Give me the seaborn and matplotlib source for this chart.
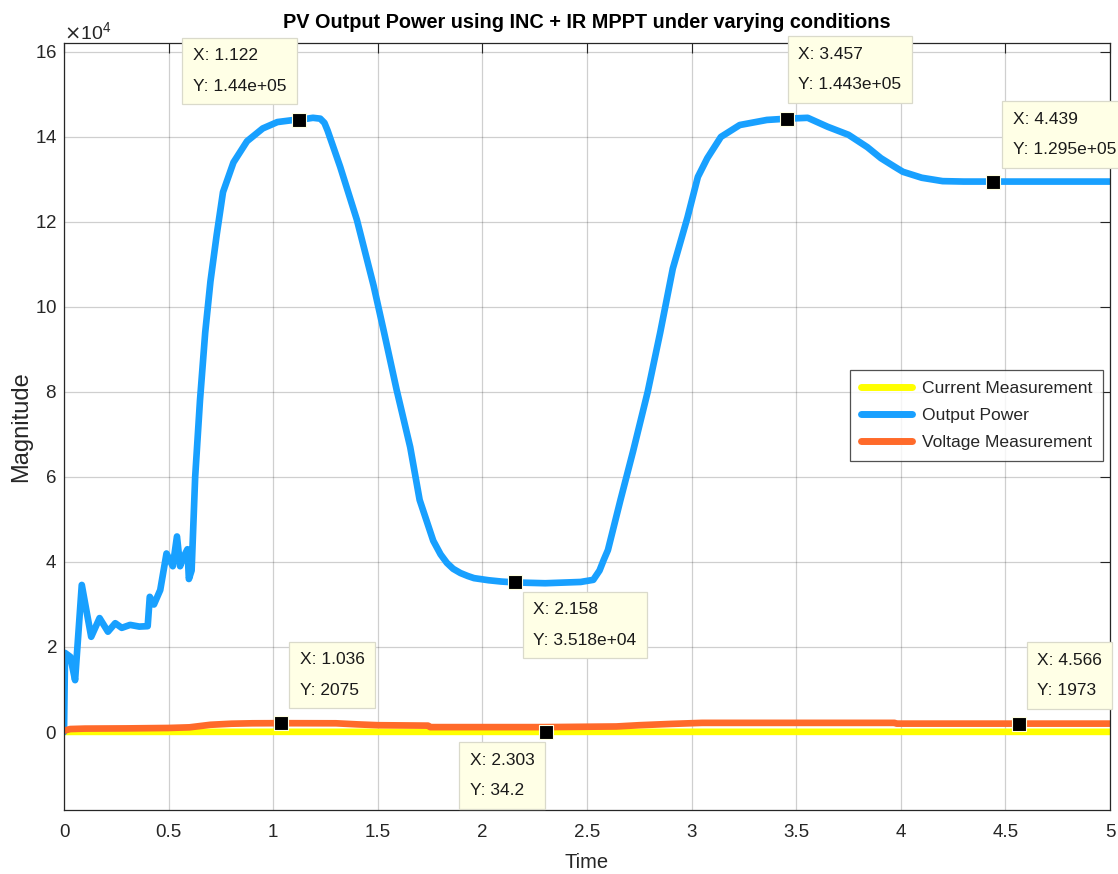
import matplotlib
matplotlib.use("Agg")
import matplotlib.pyplot as plt
from matplotlib.ticker import ScalarFormatter, MultipleLocator
import seaborn as sns

# ---------------- data ----------------
title = "PV Output Power using INC + IR MPPT under varying conditions"
series_names = ["Current Measurement", "Output Power", "Voltage Measurement"]

time_power = [0.0, 0.005, 0.03, 0.053, 0.085, 0.13, 0.17, 0.21, 0.245, 0.276, 0.316,
              0.36, 0.40, 0.41, 0.43, 0.46, 0.49, 0.52, 0.54, 0.555, 0.57, 0.59, 0.597,
              0.61, 0.627, 0.65, 0.675, 0.70, 0.73, 0.76, 0.81, 0.875, 0.95, 1.02, 1.1,
              1.122, 1.19, 1.225, 1.245, 1.26, 1.32, 1.40, 1.48, 1.53, 1.59, 1.655, 1.70, 1.765, 1.80,
              1.83, 1.86, 1.895, 1.93, 1.96, 2.03, 2.09, 2.158, 2.30, 2.47, 2.53, 2.56, 2.58,
              2.60, 2.66, 2.72, 2.79, 2.85, 2.91, 2.98, 3.03, 3.075, 3.14, 3.23, 3.36, 3.457,
              3.555, 3.65, 3.75, 3.84, 3.905, 3.97, 4.01, 4.1, 4.2, 4.3, 4.439, 4.6, 4.8, 5.0]
power = [0, 18600, 17700, 12200, 34600, 22400, 26800, 23600, 25600, 24500, 25200,
         24800, 24900, 31800, 30000, 33400, 42000, 39000, 46000, 39000, 41000, 43000, 36000,
         38000, 60000, 78000, 94000, 106000, 117000, 127000, 134000, 139000, 142000, 143500, 144000,
         144000, 144500, 144300, 143300, 141500, 133000, 120500, 105000, 94000, 80500, 67000, 54600,
         45000, 41800, 39800, 38400, 37400, 36700, 36200, 35700, 35400, 35180, 35000, 35300, 35800,
         38000, 40500, 42800, 54600, 66000, 80000, 94000, 109000, 121000, 130600, 135000, 140000,
         142800, 144000, 144300, 144500, 142400, 140500, 137600, 135000, 133000, 131800, 130400,
         129600, 129500, 129500, 129500, 129500, 129500]

time_voltage = [0.0, 0.03, 0.1, 0.3, 0.5, 0.6, 0.65, 0.7, 0.8, 0.9, 1.036, 1.3, 1.4, 1.5,
                1.74, 1.75, 2.3, 2.64, 2.75, 2.9, 3.05, 3.97, 3.98, 4.566, 5.0]
voltage = [300, 700, 800, 850, 950, 1100, 1400, 1700, 1950, 2050, 2075, 2050, 1800, 1600,
           1500, 1150, 1150, 1300, 1600, 1900, 2150, 2150, 1973, 1973, 1973]

time_current = [0.0, 0.05, 1.0, 2.303, 3.0, 4.0, 5.0]
current = [20, 30, 40, 34.2, 40, 38, 37]

tip_x = [1.122, 3.457, 4.439, 2.158, 1.036, 2.303, 4.566]
tip_y = [1.44e5, 1.443e5, 1.295e5, 3.518e4, 2075, 34.2, 1973]
tip_labels = ["X: 1.122\nY: 1.44e+05", "X: 3.457\nY: 1.443e+05", "X: 4.439\nY: 1.295e+05",
              "X: 2.158\nY: 3.518e+04", "X: 1.036\nY: 2075", "X: 2.303\nY: 34.2",
              "X: 4.566\nY: 1973"]
# label offsets (pixels) of each datatip text relative to its point
tip_offsets = [(-106, 72), (11, 72), (20, 70), (18, -20), (19, 71), (-76, -21), (18, 71)]

x_ticks = [0, 0.5, 1, 1.5, 2, 2.5, 3, 3.5, 4, 4.5, 5]
x_tick_labels = ["0", "0.5", "1", "1.5", "2", "2.5", "3", "3.5", "4", "4.5", "5"]

colors = {"Current Measurement": "#FFFF00", "Output Power": "#18A0FF",
          "Voltage Measurement": "#FF6A2A"}

# ---------------- style ----------------
sns.set_style("white")
plt.rcParams['font.family'] = ['Liberation Sans', 'DejaVu Sans']
text_col = "#262626"

fig = plt.figure(figsize=(11.18, 8.74), dpi=100)
ax = fig.add_axes([64 / 1118, 1 - 810 / 874, (1110 - 64) / 1118, (810 - 43) / 874])

lw = 4.8
sns.lineplot(x=time_current, y=current, color=colors[series_names[0]], lw=lw,
             label=series_names[0], estimator=None, ax=ax)
sns.lineplot(x=time_power, y=power, color=colors[series_names[1]], lw=lw,
             label=series_names[1], estimator=None, ax=ax)
sns.lineplot(x=time_voltage, y=voltage, color=colors[series_names[2]], lw=lw,
             label=series_names[2], estimator=None, ax=ax)

ax.set_xlim(0, 5)
ax.set_ylim(-1.835e4, 1.621e5)
ax.set_xticks(x_ticks)
ax.set_xticklabels(x_tick_labels)
ax.yaxis.set_major_locator(MultipleLocator(2e4))
fmt = ScalarFormatter(useMathText=True)
fmt.set_powerlimits((4, 4))
ax.yaxis.set_major_formatter(fmt)
ax.yaxis.get_offset_text().set_fontsize(14)
ax.yaxis.get_offset_text().set_color(text_col)

ax.grid(True, color="#262626", alpha=0.22, lw=0.9)
ax.tick_params(direction="in", length=7, width=0.8, colors=text_col, labelsize=13.5,
               top=True, right=True)
ax.tick_params(axis="y", pad=5)
ax.tick_params(axis="x", pad=10)
for s in ax.spines.values():
    s.set_color(text_col)
    s.set_linewidth(0.9)

ax.set_title(title, fontsize=14.3, fontweight="bold", color="black", pad=11)
ax.set_xlabel("Time", fontsize=14.5, color=text_col, labelpad=9)
ax.set_ylabel("Magnitude", fontsize=17, color=text_col, labelpad=2)

leg = ax.legend(loc="upper right", bbox_to_anchor=(0.9933, 0.5737), borderaxespad=0,
                fontsize=12.6, frameon=True, fancybox=False, edgecolor="#262626",
                handlelength=2.9, handletextpad=0.6, labelspacing=0.68, borderpad=0.6)
leg.get_frame().set_linewidth(0.9)
for h in leg.get_lines():
    h.set_linewidth(5)

# datatips
ax.scatter(tip_x, tip_y, marker="s", s=115, c="black", edgecolors="#FFFFE1",
           linewidths=0.8, zorder=6)
for x, y, lbl, (dx, dy) in zip(tip_x, tip_y, tip_labels, tip_offsets):
    ax.annotate(lbl, xy=(x, y), xytext=(dx, dy), textcoords="offset pixels",
                ha="left", va="top", fontsize=12.5, linespacing=2.3, color="#1a1a1a",
                bbox=dict(boxstyle="square,pad=0.6", fc="#FFFFE6", ec="#DADACB", lw=0.9),
                annotation_clip=False, zorder=7)

fig.savefig("out.png", dpi=100)
